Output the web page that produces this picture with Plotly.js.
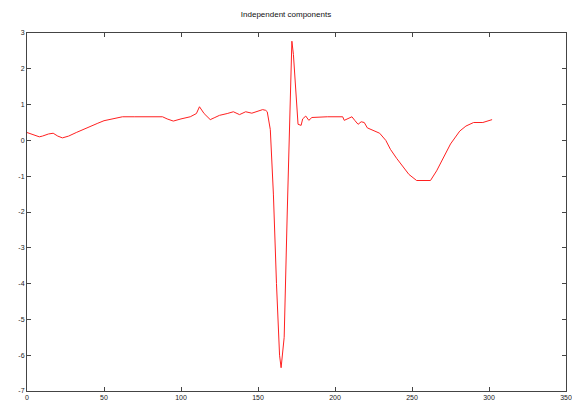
<!DOCTYPE html>
<html><head><meta charset="utf-8">
<script src="https://cdn.plot.ly/plotly-3.0.1.min.js"></script>
<style>html,body{margin:0;padding:0;background:#fff}</style>
</head><body><div id="chart" style="width:572px;height:405px"></div>
<script>
const sampleX = [0,4,8,10,14,17,20,23,27,32,37,41,46,50,54,58,62,70,80,88,91,95,100,106,110,112,115,119,122,125,130,134,138,142,146,150,153,155,156,158,160,162,164,165,167,169,171,172,173,175,176,178,179,181,183,185,190,195,200,205,206,209,211,213,215,217,219,221,225,229,233,236,240,244,248,253,258,262,266,270,275,281,285,290,296,302];
const sampleY = [0.22,0.15,0.1,0.12,0.18,0.2,0.12,0.07,0.12,0.22,0.32,0.4,0.48,0.55,0.58,0.62,0.66,0.66,0.66,0.66,0.6,0.54,0.6,0.66,0.75,0.94,0.75,0.58,0.64,0.7,0.75,0.8,0.72,0.8,0.76,0.82,0.86,0.84,0.8,0.3,-1.5,-4.0,-6.0,-6.35,-5.5,-2.0,1.5,2.77,2.4,1.0,0.45,0.42,0.6,0.68,0.56,0.64,0.66,0.66,0.66,0.66,0.56,0.62,0.66,0.55,0.45,0.52,0.5,0.35,0.28,0.2,0.0,-0.25,-0.5,-0.72,-0.95,-1.12,-1.13,-1.12,-0.85,-0.53,-0.1,0.26,0.4,0.5,0.5,0.58];
const xTicks = [0,50,100,150,200,250,300,350];
const yTicks = [-7,-6,-5,-4,-3,-2,-1,0,1,2,3];
const titleText = 'Independent components';

const axisCommon = {
  showgrid:false, zeroline:false, showline:true, linecolor:'#444', linewidth:1,
  mirror:'allticks', ticks:'inside', ticklen:4, tickcolor:'#444',
  tickfont:{family:'Liberation Sans, Arial, sans-serif', size:7, color:'#222'}
};
Plotly.newPlot('chart', [{
  x: sampleX, y: sampleY, type:'scatter', mode:'lines',
  line:{color:'#ff2020', width:1}
}], {
  width:572, height:405,
  margin:{l:27, r:6, t:33, b:14},
  paper_bgcolor:'#fff', plot_bgcolor:'#fff',
  showlegend:false,
  title:{text:titleText, x:0.5, xanchor:'center', y:0.965, yanchor:'middle',
    font:{family:'Liberation Sans, Arial, sans-serif', size:8, color:'#111'}},
  xaxis:Object.assign({range:[0,350], tickvals:xTicks, ticktext:xTicks.map(String)}, axisCommon),
  yaxis:Object.assign({range:[-7,3], tickvals:yTicks, ticktext:yTicks.map(String)}, axisCommon)
}, {staticPlot:true, displayModeBar:false});
</script></body></html>
